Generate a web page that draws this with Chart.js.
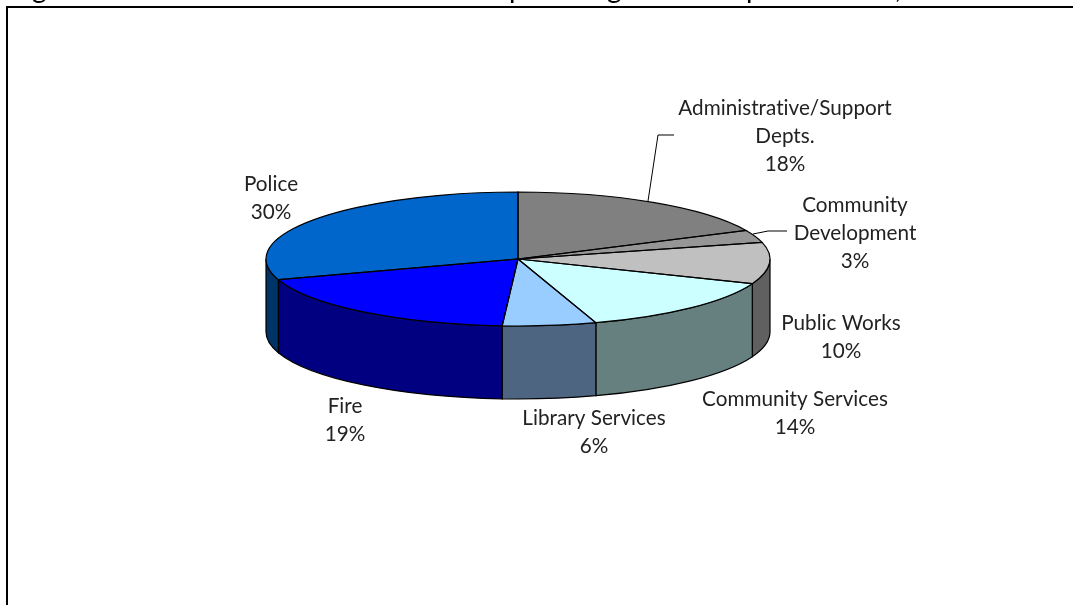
<!DOCTYPE html>
<html>
<head>
<meta charset="utf-8">
<style>
html,body{margin:0;padding:0;background:#fff;overflow:hidden}
#wrap{position:absolute;left:0;top:0;width:1073px;height:605px}
</style>
<script src="https://cdn.jsdelivr.net/npm/chart.js@4"></script>
</head>
<body>
<div id="wrap"><canvas id="c" width="1073" height="605"></canvas></div>
<script>
// General fund spending by department, share of total in percent
const departments = ['Administrative/Support Depts.', 'Community Development', 'Public Works', 'Community Services', 'Library Services', 'Fire', 'Police'];
const shares = [18, 3, 10, 14, 6, 19, 30];
const topColors = ['#808080', '#969696', '#C0C0C0', '#CCFFFF', '#99CCFF', '#0000FF', '#0066CC'];
const wallColors = ['#606060', '#707070', '#606060', '#668080', '#4D6580', '#000080', '#003366'];

// Label lines: each entry holds the wrapped text and its centre and first baseline
const labelLines = [
  [['Administrative/Support', 'Depts.', '18%'], 785, 115],
  [['Community', 'Development', '3%'], 855, 212],
  [['Public Works', '10%'], 841, 330],
  [['Community Services', '14%'], 795, 406],
  [['Library Services', '6%'], 594, 425],
  [['Fire', '19%'], 345, 413],
  [['Police', '30%'], 271, 191]
];
const lineHeight = 28;
const leaders = [
  [[648, 201], [658, 135], [674, 135]],
  [[753, 234], [768, 231], [787, 231]]
];

// Heading line above the frame: only the descenders fall inside the page
const headingGlyphs = [['g', 32], ['p', 509], ['g', 607], ['p', 746], [',', 895]];

// Disc geometry: tilt squashes the pie vertically, depth is the wall height
const tilt = 67 / 252;
const depth = 73;
const penWidth = 1.2;

const squashTransform = (ctx, arc) => {
  ctx.translate(arc.x, arc.y);
  ctx.scale(1, tilt);
  ctx.translate(-arc.x, -arc.y);
};

const tiltedPie = {
  id: 'tiltedPie',
  beforeDatasetsDraw(chart) {
    const ctx = chart.ctx;
    const arcs = chart.getDatasetMeta(0).data;
    // Walls sit under the disc; only the part facing the viewer (0..PI) shows
    arcs.forEach((arc, i) => {
      const tau = Math.PI * 2;
      const a = arc.startAngle, b = arc.endAngle;
      const spans = [[a, b], [a - tau, b - tau], [a + tau, b + tau]];
      spans.forEach(([s, e]) => {
        const from = Math.max(s, 0), to = Math.min(e, Math.PI);
        if (to <= from) return;
        const rx = arc.outerRadius, ry = rx * tilt;
        ctx.beginPath();
        ctx.ellipse(arc.x, arc.y, rx, ry, 0, from, to);
        ctx.ellipse(arc.x, arc.y + depth, rx, ry, 0, to, from, true);
        ctx.closePath();
        ctx.fillStyle = wallColors[i];
        ctx.fill();
        ctx.strokeStyle = '#000';
        ctx.lineWidth = penWidth;
        ctx.stroke();
      });
    });
    ctx.save();
    squashTransform(ctx, arcs[0]);
  },
  afterDatasetsDraw(chart) {
    const ctx = chart.ctx;
    ctx.restore();
    const arcs = chart.getDatasetMeta(0).data;
    // Outlines are stroked without the squash so the pen stays even
    arcs.forEach(arc => {
      ctx.save();
      squashTransform(ctx, arc);
      ctx.beginPath();
      ctx.moveTo(arc.x, arc.y);
      ctx.arc(arc.x, arc.y, arc.outerRadius, arc.startAngle, arc.endAngle);
      ctx.closePath();
      ctx.restore();
      ctx.strokeStyle = '#000';
      ctx.lineWidth = penWidth;
      ctx.stroke();
    });
  },
  afterDraw(chart) {
    const ctx = chart.ctx;
    // Chart frame
    ctx.strokeStyle = '#000';
    ctx.lineWidth = 2;
    ctx.beginPath();
    ctx.moveTo(7, 605);
    ctx.lineTo(7, 7);
    ctx.lineTo(1073, 7);
    ctx.stroke();
    // Leader lines
    ctx.lineWidth = 1;
    leaders.forEach(pts => {
      ctx.beginPath();
      pts.forEach(([x, y], k) => k ? ctx.lineTo(x, y) : ctx.moveTo(x, y));
      ctx.stroke();
    });
    ctx.textBaseline = 'alphabetic';
    // Heading descenders
    ctx.fillStyle = '#000';
    ctx.font = '28px Lato';
    ctx.textAlign = 'left';
    headingGlyphs.forEach(([t, x]) => ctx.fillText(t, x, -2));
    // Category labels
    ctx.fillStyle = '#222';
    ctx.font = '20.7px Lato';
    ctx.letterSpacing = '0.01px';
    ctx.textAlign = 'center';
    labelLines.forEach(([lines, x, y]) => {
      lines.forEach((t, k) => ctx.fillText(t, x, y + k * lineHeight));
    });
  }
};

new Chart(document.getElementById('c'), {
  type: 'pie',
  data: {
    labels: departments,
    datasets: [{ data: shares, backgroundColor: topColors, borderWidth: 0 }]
  },
  options: {
    responsive: false,
    animation: false,
    // Padding places the pie centre at (518, 259) with a radius of 252
    layout: { padding: { left: 266, right: 303, top: 7, bottom: 94 } },
    plugins: { legend: { display: false }, tooltip: { enabled: false }, title: { display: false } }
  },
  plugins: [tiltedPie]
});
</script>
</body>
</html>
